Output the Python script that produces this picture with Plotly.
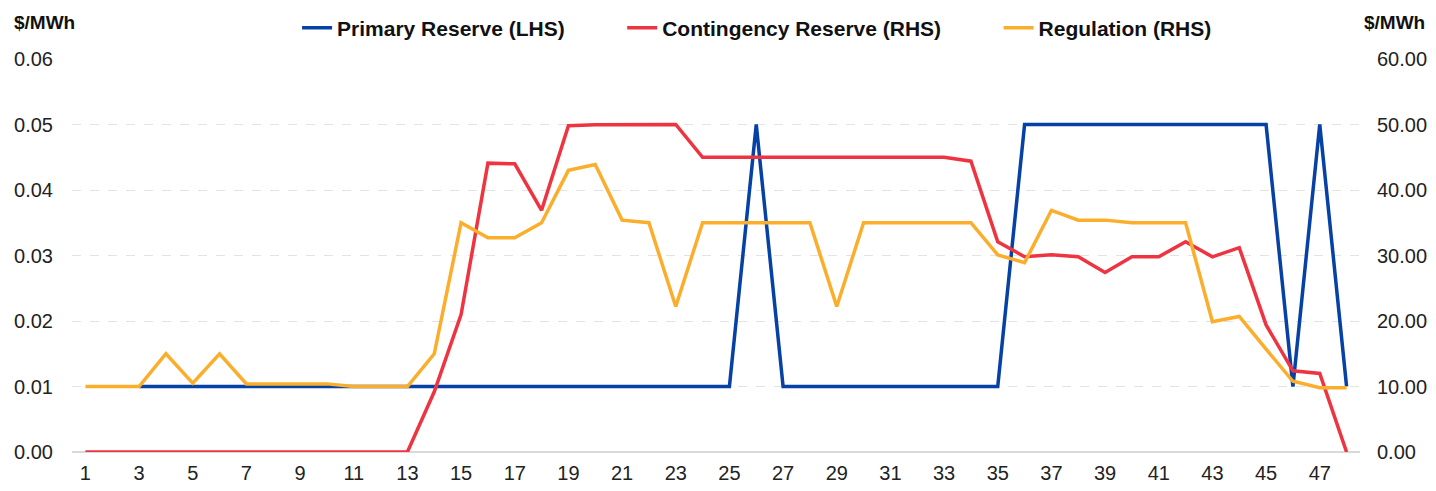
import plotly.graph_objects as go

periods = list(range(1, 49))

primary_reserve = [None, None, 0.01, 0.01, 0.01, 0.01, 0.01, 0.01, 0.01, 0.01,
                   0.01, 0.01, 0.01, 0.01, 0.01, 0.01, 0.01, 0.01, 0.01, 0.01,
                   0.01, 0.01, 0.01, 0.01, 0.01, 0.05, 0.01, 0.01, 0.01, 0.01,
                   0.01, 0.01, 0.01, 0.01, 0.01, 0.05, 0.05, 0.05, 0.05, 0.05,
                   0.05, 0.05, 0.05, 0.05, 0.05, 0.01, 0.05, 0.01]

contingency_reserve = [0, 0, 0, 0, 0, 0, 0, 0, 0, 0,
                       0, 0, 0, 9.2, 21.0, 44.1, 44.0, 36.9, 49.8, 49.95,
                       50, 50, 50, 45, 45, 45, 45, 45, 45, 45,
                       45, 45, 45, 44.4, 32.1, 29.8, 30.1, 29.8, 27.4, 29.8,
                       29.8, 32.1, 29.8, 31.2, 19.4, 12.4, 12.0, 0]

regulation = [10, 10, 10, 15, 10.5, 15, 10.4, 10.4, 10.4, 10.4,
              10, 10, 10, 15, 35, 32.7, 32.7, 35, 43.0, 43.9,
              35.4, 35.0, 22.2, 35, 35, 35, 35, 35, 22.2, 35,
              35, 35, 35, 35, 30.1, 28.9, 36.9, 35.4, 35.4, 35,
              35, 35, 19.9, 20.7, 15.7, 10.8, 9.8, 9.8]

left_ticks = [0, 0.01, 0.02, 0.03, 0.04, 0.05, 0.06]
right_ticks = [0, 10, 20, 30, 40, 50, 60]
x_ticks = list(range(1, 49, 2))

BLUE = "#0641A6"
RED = "#EE3441"
ORANGE = "#FBAE2C"
TEXT = "#222222"
FONT = "Liberation Sans, Arial, sans-serif"
GAP = "\u00a0" * 9

fig = go.Figure()
fig.add_trace(go.Scatter(x=periods, y=contingency_reserve, name="Contingency Reserve (RHS)" + GAP,
                         mode="lines", line=dict(color=RED, width=3.5), yaxis="y2", legendrank=2))
fig.add_trace(go.Scatter(x=periods, y=regulation, name="Regulation (RHS)",
                         mode="lines", line=dict(color=ORANGE, width=3.5), yaxis="y2", legendrank=3))
fig.add_trace(go.Scatter(x=periods, y=primary_reserve, name="Primary Reserve (LHS)" + GAP,
                         mode="lines", line=dict(color=BLUE, width=3.5), yaxis="y", legendrank=1))

# page body has an 8px margin, so the figure is offset by 8px right/down
fig.update_layout(
    width=1436, height=491,
    margin=dict(l=64, r=84, t=51, b=47, autoexpand=False),
    plot_bgcolor="white", paper_bgcolor="white",
    font=dict(family=FONT, size=20, color=TEXT),
    showlegend=True,
    legend=dict(orientation="h", xref="container", yref="container",
                x=0.2013, xanchor="left", y=1 - 20 / 491, yanchor="middle",
                font=dict(family=FONT, size=21, color="#111111", weight="bold"),
                tracegroupgap=0, bgcolor="rgba(0,0,0,0)"),
    xaxis=dict(range=[0.5, 48.5], tickmode="array", tickvals=x_ticks,
               ticktext=[str(t) for t in x_ticks], showgrid=False, zeroline=False,
               showline=False, ticks="", ticklabelstandoff=7, automargin=False,
               tickfont=dict(size=20, color=TEXT)),
    yaxis=dict(range=[0, 0.06], tickmode="array", tickvals=left_ticks,
               ticktext=[f"{v:.2f}" for v in left_ticks],
               showgrid=True, gridcolor="#E3E3E3", griddash="dash", gridwidth=1,
               zeroline=True, zerolinecolor="#D9D9D9", zerolinewidth=2,
               showline=False, ticks="", ticklabelstandoff=18, automargin=False,
               tickfont=dict(size=20, color=TEXT)),
    yaxis2=dict(range=[0, 60], overlaying="y", side="right", tickmode="array",
                tickvals=right_ticks, ticktext=[f"{v:.2f}" for v in right_ticks],
                showgrid=False, zeroline=False, showline=False, ticks="",
                ticklabelstandoff=16, automargin=False,
                tickfont=dict(size=20, color=TEXT)),
    annotations=[
        dict(text="<b>$/MWh</b>", xref="paper", yref="paper", x=-0.0466, y=1.092,
             xanchor="left", yanchor="middle", showarrow=False,
             font=dict(family=FONT, size=19, color="#111111")),
        dict(text="<b>$/MWh</b>", xref="paper", yref="paper", x=1.0016, y=1.093,
             xanchor="left", yanchor="middle", showarrow=False,
             font=dict(family=FONT, size=19, color="#111111")),
    ],
)

fig.write_html("out.html")
